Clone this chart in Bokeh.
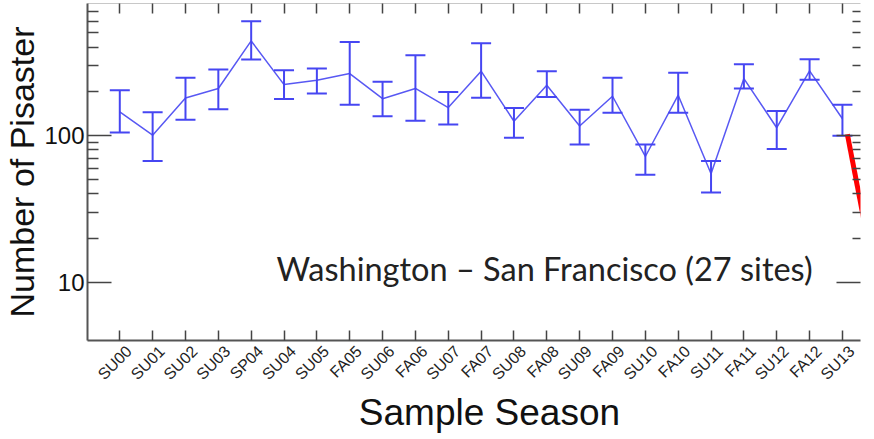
import math
from bokeh.plotting import figure
from bokeh.models import (ColumnDataSource, Whisker, TeeHead, FixedTicker, LinearAxis,
                          LogAxis, Label, PrintfTickFormatter, Range1d)
from bokeh.embed import file_html
from bokeh.resources import INLINE

seasons = ["SU00", "SU01", "SU02", "SU03", "SP04", "SU04", "SU05", "FA05", "SU06", "FA06",
           "SU07", "FA07", "SU08", "FA08", "SU09", "FA09", "SU10", "FA10", "SU11", "FA11",
           "SU12", "FA12", "SU13"]
counts = [145, 100.5, 180, 209, 440, 222, 238, 264, 178, 209,
          155, 274, 125, 220, 116, 185, 72, 188, 55, 244,
          113, 275, 130]
upper = [203, 144, 247, 281, 599, 278, 286, 433, 232, 352,
         198, 424, 154, 274, 150, 247, 87, 267, 67, 305,
         147, 330, 162]
lower = [105, 67, 128, 151, 329, 177, 193, 162, 135, 126,
         119, 181, 96.5, 183, 87, 143, 54, 143, 41, 209,
         81, 240, 99.5]

# second (red) series, continuing past SU13
red_x = [22.15, 23.0]
red_y = [102, 10.5]

y_major = [10, 100]
y_minor = [20, 30, 40, 50, 60, 70, 80, 90, 200, 300, 400, 500, 600, 700]

xs = list(range(len(seasons)))
src = ColumnDataSource(data=dict(x=xs, y=counts, upper=upper, lower=lower))

p = figure(frame_width=773, frame_height=337,
           x_range=Range1d(-0.983, 22.55), y_range=Range1d(4.03, 791),
           y_axis_type="log", output_backend="svg", toolbar_location=None,
           min_border_left=83, min_border_right=2, min_border_top=3, min_border_bottom=80,
           background_fill_color="white", border_fill_color="white")
p.outline_line_color = None
p.xgrid.grid_line_color = None
p.ygrid.grid_line_color = None

blue = "#4646f2"
p.line("x", "y", source=src, line_color=blue, line_width=1.5, line_alpha=0.9)
wh = Whisker(base="x", upper="upper", lower="lower", source=src, dimension="height",
             line_color=blue, line_width=2,
             upper_head=TeeHead(size=20, line_color=blue, line_width=2),
             lower_head=TeeHead(size=20, line_color=blue, line_width=2))
p.add_layout(wh)
p.line(red_x, red_y, line_color="#ff0000", line_width=5)

axis_font = "Liberation Sans"

# bottom axis: line + inward ticks
xa = p.xaxis[0]
xa.ticker = FixedTicker(ticks=xs)
xa.major_label_text_font_size = "1px"
xa.major_label_text_color = None
xa.major_label_standoff = 0
xa.major_tick_in = 10
xa.major_tick_out = 0
xa.minor_tick_line_color = None
xa.axis_line_color = "#555555"
xa.axis_line_width = 2
xa.major_tick_line_color = "#444444"
xa.major_tick_line_width = 1.5

# bottom labels (slanted), sitting slightly right of each tick as in the reference
lab_ticks = [i + 0.28 for i in xs]
xl = LinearAxis(ticker=FixedTicker(ticks=lab_ticks))
xl.major_label_overrides = {t: s for t, s in zip(lab_ticks, seasons)}
xl.major_label_orientation = math.pi / 4
xl.major_label_text_font = axis_font
xl.major_label_text_font_size = "16px"
xl.major_label_text_color = "#222222"
xl.major_label_standoff = 2
xl.major_tick_line_color = None
xl.minor_tick_line_color = None
xl.axis_line_color = None
xl.axis_label = "\u00a0\u00a0\u00a0Sample Season"
xl.axis_label_text_font = axis_font
xl.axis_label_text_font_size = "37px"
xl.axis_label_text_font_style = "normal"
xl.axis_label_text_color = "#111111"
xl.axis_label_standoff = 0
p.add_layout(xl, "below")

ya = p.yaxis[0]
ya.ticker = FixedTicker(ticks=y_major, minor_ticks=y_minor)
ya.formatter = PrintfTickFormatter(format="%d")
ya.major_label_text_font = axis_font
ya.major_label_text_font_size = "24px"
ya.major_label_text_color = "#111111"
ya.major_label_standoff = 3
ya.major_tick_in = 24
ya.major_tick_out = 0
ya.minor_tick_in = 11
ya.minor_tick_out = 0
ya.axis_line_color = "#555555"
ya.axis_line_width = 2
ya.major_tick_line_color = "#444444"
ya.major_tick_line_width = 1.5
ya.minor_tick_line_color = "#444444"
ya.minor_tick_line_width = 1.5
ya.axis_label = "Number of Pisaster"
ya.axis_label_text_font = axis_font
ya.axis_label_text_font_size = "34px"
ya.axis_label_text_font_style = "normal"
ya.axis_label_text_color = "#111111"
ya.axis_label_standoff = 0

top = LinearAxis(ticker=FixedTicker(ticks=xs))
top.major_label_text_font_size = "1px"
top.major_label_text_color = None
top.major_label_standoff = 0
top.major_tick_in = 10
top.major_tick_out = 0
top.minor_tick_line_color = None
top.axis_line_color = "#c8c8c8"
top.axis_line_width = 1
top.major_tick_line_color = "#444444"
top.major_tick_line_width = 1.5
p.add_layout(top, "above")

right = LogAxis(ticker=FixedTicker(ticks=y_major, minor_ticks=y_minor))
right.major_label_text_font_size = "1px"
right.major_label_text_color = None
right.major_label_standoff = 0
right.major_tick_in = 24
right.major_tick_out = 0
right.minor_tick_in = 8
right.minor_tick_out = 0
right.axis_line_color = None
right.major_tick_line_color = "#444444"
right.major_tick_line_width = 1.5
right.minor_tick_line_color = "#444444"
right.minor_tick_line_width = 1.5
p.add_layout(right, "right")

note = Label(x=4.77, y=12.5, text="Washington  \u2013 San Francisco (27 sites)",
             text_font="Lato", text_font_size="32.5px", text_color="#222222",
             text_baseline="alphabetic", text_align="left")
p.add_layout(note)

open("out.html", "w").write(file_html(p, INLINE))
